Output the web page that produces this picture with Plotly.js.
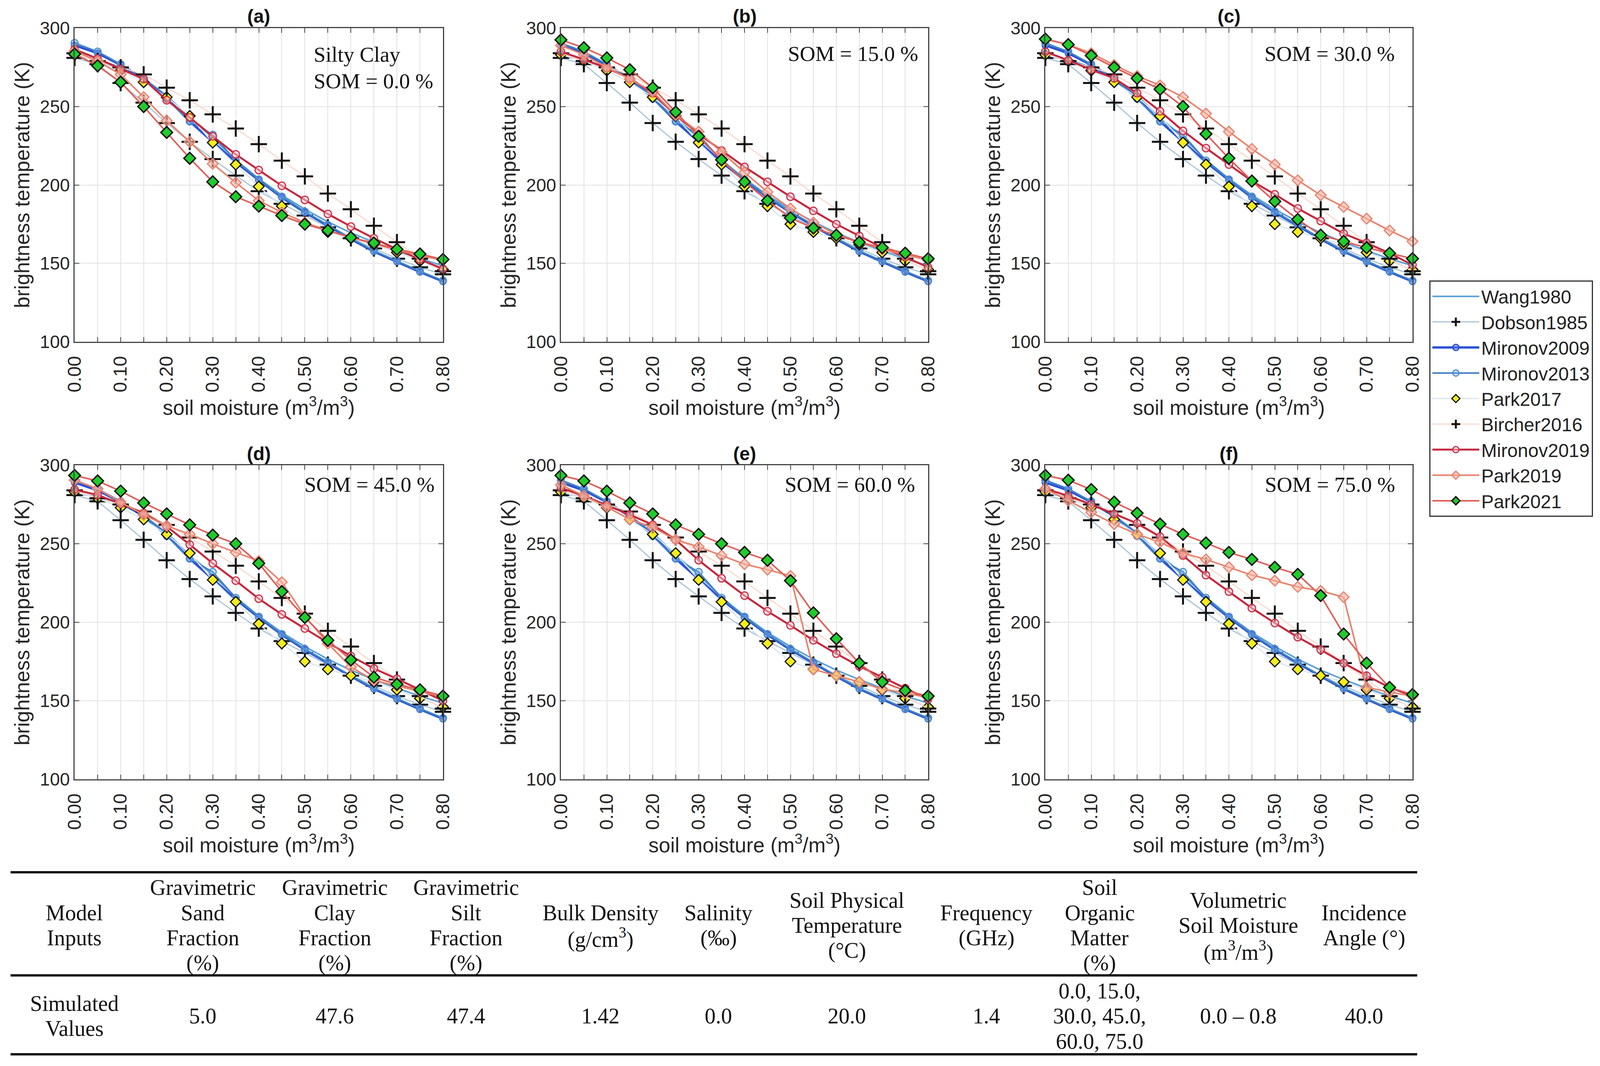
<!DOCTYPE html>
<html><head><meta charset="utf-8">
<script src="https://cdn.plot.ly/plotly-3.0.1.min.js"></script>
<style>html,body{margin:0;padding:0;background:#fff}#chart{width:4182px;height:2729px}</style>
</head><body><div id="chart"></div>
<script>
// ---------------- DATA ----------------
const moisture = [0.00,0.05,0.10,0.15,0.20,0.25,0.30,0.35,0.40,0.45,0.50,0.55,0.60,0.65,0.70,0.75,0.80];

// models that do not change with SOM (same in every panel)
const wang1980    = [282, 280, 275, 268, 257, 243, 230, 216, 204, 193.5, 184.5, 176.5, 169.5, 163.5, 158, 153, 148.5];
const dobson1985  = [281, 277, 265, 252.5, 239.5, 227.5, 216.5, 206, 196, 188, 180.5, 173, 166, 159.5, 153, 147.5, 143];
const mironov2009 = [289, 284, 276.5, 267.5, 255.5, 240.5, 227.5, 214.5, 203, 192, 182.5, 174, 165.5, 157.5, 151, 144.5, 138.5];
const mironov2013 = [290.5, 285, 277, 268, 255, 240.5, 232, 215.5, 203.5, 192.5, 183, 174.5, 166, 158, 151.5, 145, 139];
const park2017    = [283, 279, 273, 265.5, 256, 244, 227, 213, 199, 186.5, 175, 170, 166, 162, 157, 151.5, 146];
const bircher2016 = [284, 279, 275, 270.5, 262, 254, 245, 236, 226, 215.5, 205.5, 194.5, 184.5, 174, 163.5, 153, 145];

// SOM-dependent models, one array per panel
const mironov2019A = [286.5, 280.5, 274, 267.5, 254, 243, 231, 219.5, 209.5, 199.5, 190.5, 181.5, 173.5, 166, 159, 152.5, 146.5];
const park2019A    = [285.5, 279, 270.5, 256, 241, 227.5, 213.5, 201.5, 190, 182.5, 176, 171, 166.5, 162.5, 158.5, 155, 152];
const park2021A    = [283.5, 276, 265.5, 250, 233.5, 217, 202, 192.5, 186.5, 180.5, 175, 171, 166.5, 163, 159, 156, 152.5];

const mironov2019B = [285, 280, 274.5, 268, 258.5, 244.5, 232.5, 222, 211.5, 202, 192.5, 183.5, 175, 167.5, 160, 154, 147.5];
const park2019B    = [289, 283, 275, 267.5, 259.5, 244.5, 234, 221, 208, 195.5, 185, 176, 168.5, 163.5, 159, 155.5, 152];
const park2021B    = [292.5, 287.5, 281, 273.5, 262, 246.5, 231, 216, 202, 190, 179, 172.5, 168, 163.5, 160, 156.5, 153];

const mironov2019C = [285, 279.5, 273.5, 268, 258.5, 247, 234.5, 223.5, 213, 202.5, 194, 185, 177, 169, 163, 156.5, 149];
const park2019C    = [293, 289.5, 284, 276.5, 269.5, 263.5, 256, 245.5, 234, 223, 213, 203, 193.5, 186, 178.5, 171, 164];
const park2021C    = [293, 289.5, 282.5, 275, 268, 261, 250, 232.5, 217, 202.5, 189.5, 178, 168, 164, 160, 156.5, 153];

const mironov2019D = [284.5, 281, 275.5, 269.5, 261, 249.5, 237.5, 226.5, 215, 205, 196, 187, 178.5, 170.5, 164, 157, 150];
const park2019D    = [290.5, 285, 276.5, 268.5, 261.5, 256, 250, 244.5, 239, 225.5, 204, 186.5, 171.5, 163, 159.5, 156, 152.5];
const park2021D    = [293.5, 290, 283.5, 276, 269, 262, 255.5, 250, 237.5, 219.5, 203, 188.5, 176, 165, 160.5, 157, 153];

const mironov2019E = [285.5, 280.5, 274.5, 268.5, 262, 252.5, 239.5, 228, 217, 207, 198, 188.5, 180, 172, 165, 158, 151];
const park2019E    = [287.5, 280.5, 273.5, 265.5, 260.5, 252.5, 248, 242.5, 237, 233.5, 229.5, 170, 166, 162, 157.5, 155, 152];
const park2021E    = [293.5, 290, 283.5, 276, 269, 262, 256, 250, 244.5, 239.5, 226.5, 206, 189.5, 174, 162, 156.5, 153];

const mironov2019F = [285, 280.5, 275, 269, 263, 254.5, 242.5, 230, 219.5, 209, 199.5, 190.5, 182.5, 174, 166, 158.5, 153];
const park2019F    = [285, 277.5, 270, 262.5, 256, 251, 244, 240, 235, 230, 226.5, 222.5, 220, 216, 158.5, 155.5, 153];
const park2021F    = [293.5, 290.5, 284.5, 276.5, 269.5, 262.5, 256, 250.5, 244.5, 240, 235, 230.5, 217, 192.5, 174, 158.5, 154];

const panelTitles = ["(a)", "(b)", "(c)", "(d)", "(e)", "(f)"];
const somLabels = [["Silty Clay", "SOM = 0.0 %"], ["SOM = 15.0 %"], ["SOM = 30.0 %"], ["SOM = 45.0 %"], ["SOM = 60.0 %"], ["SOM = 75.0 %"]];
const modelNames = ["Wang1980", "Dobson1985", "Mironov2009", "Mironov2013", "Park2017", "Bircher2016", "Mironov2019", "Park2019", "Park2021"];

const xTickVals = [0.00, 0.10, 0.20, 0.30, 0.40, 0.50, 0.60, 0.70, 0.80];
const xTickText = ["0.00", "0.10", "0.20", "0.30", "0.40", "0.50", "0.60", "0.70", "0.80"];
const yTickVals = [100, 150, 200, 250, 300];

const tableHeader = [
  ["Model","Inputs"],
  ["Gravimetric","Sand","Fraction","(%)"],
  ["Gravimetric","Clay","Fraction","(%)"],
  ["Gravimetric","Silt","Fraction","(%)"],
  ["Bulk Density","(g/cm<sup>3</sup>)"],
  ["Salinity","(‰)"],
  ["Soil Physical","Temperature","(°C)"],
  ["Frequency","(GHz)"],
  ["Soil","Organic","Matter","(%)"],
  ["Volumetric","Soil Moisture","(m<sup>3</sup>/m<sup>3</sup>)"],
  ["Incidence","Angle (°)"]
];
const tableValues = [
  ["Simulated","Values"],["5.0"],["47.6"],["47.4"],["1.42"],["0.0"],["20.0"],["1.4"],
  ["0.0, 15.0,","30.0, 45.0,","60.0, 75.0"],["0.0 – 0.8"],["40.0"]
];

// ---------------- LAYOUT / STYLE ----------------
const W = 4182, H = 2729;
const px = v => v / W;
const py = v => 1 - v / H;
const SANS = "Liberation Sans, Arial, Helvetica, sans-serif";
const SERIF = "Liberation Serif, Times New Roman, serif";

const panelBoxes = [
  {l:191,  r:1134, t:72,   b:875,  txtX:801,  txtY:140},
  {l:1436, r:2376, t:72,   b:875,  txtX:2015, txtY:137},
  {l:2676, r:3616, t:72,   b:875,  txtX:3235, txtY:137},
  {l:191,  r:1134, t:1191, b:1995, txtX:777,  txtY:1240},
  {l:1436, r:2376, t:1191, b:1995, txtX:2007, txtY:1240},
  {l:2676, r:3616, t:1191, b:1995, txtX:3236, txtY:1240}
];
const somSeries = [
  [mironov2019A, park2019A, park2021A],
  [mironov2019B, park2019B, park2021B],
  [mironov2019C, park2019C, park2021C],
  [mironov2019D, park2019D, park2021D],
  [mironov2019E, park2019E, park2021E],
  [mironov2019F, park2019F, park2021F]
];

const styles = [
  {mode:'lines', line:{color:'#5aa0d6', width:4}},
  {mode:'lines+markers', line:{color:'#a9c4d6', width:3}, marker:{symbol:'cross-thin', size:30, line:{color:'#111', width:5}}},
  {mode:'lines+markers', line:{color:'#2a52d8', width:6}, marker:{symbol:'circle', size:16, color:'rgba(90,130,230,0.5)', line:{color:'#2448d6', width:3}}},
  {mode:'lines+markers', line:{color:'#3f82c4', width:4}, marker:{symbol:'circle', size:18, color:'rgba(120,170,225,0.35)', line:{color:'#4a8fd0', width:3}}},
  {mode:'lines+markers', line:{color:'#d8e4ef', width:3}, marker:{symbol:'diamond', size:21, color:'#f2ee1c', line:{color:'#111', width:3}}},
  {mode:'lines+markers', line:{color:'#f8d9cc', width:3}, marker:{symbol:'cross-thin', size:30, line:{color:'#111', width:5}}},
  {mode:'lines+markers', line:{color:'#c5283d', width:5}, marker:{symbol:'circle', size:19, color:'rgba(255,210,215,0.5)', line:{color:'#cc3048', width:3}}},
  {mode:'lines+markers', line:{color:'#e8826c', width:4}, marker:{symbol:'diamond', size:21, color:'rgba(245,180,165,0.6)', line:{color:'#e8826c', width:3}}},
  {mode:'lines+markers', line:{color:'#df5f58', width:4}, marker:{symbol:'diamond', size:23, color:'#1fcc2a', line:{color:'#111', width:3.5}}}
];

const traces = [];
const layout = {
  width: W, height: H,
  margin: {l:0, r:0, t:0, b:0},
  paper_bgcolor: '#ffffff', plot_bgcolor: '#ffffff',
  showlegend: true,
  legend: {
    x: px(3659), y: py(718), xanchor: 'left', yanchor: 'top',
    bgcolor: '#ffffff', bordercolor: '#333333', borderwidth: 3,
    font: {family: SANS, size: 48, color: '#222222'},
    itemwidth: 120, tracegroupgap: 0
  },
  annotations: [], shapes: []
};

panelBoxes.forEach((p, i) => {
  const sfx = i === 0 ? '' : String(i + 1);
  const seriesData = [wang1980, dobson1985, mironov2009, mironov2013, park2017, bircher2016,
                      somSeries[i][0], somSeries[i][1], somSeries[i][2]];
  seriesData.forEach((yv, k) => {
    const st = styles[k];
    traces.push(Object.assign({
      type: 'scatter', x: moisture, y: yv, name: modelNames[k],
      xaxis: 'x' + sfx, yaxis: 'y' + sfx, showlegend: i === 0, cliponaxis: false
    }, JSON.parse(JSON.stringify(st))));
  });
  layout['xaxis' + sfx] = {
    domain: [px(p.l), px(p.r)], anchor: 'y' + sfx, range: [0, 0.8],
    tickmode: 'array', tickvals: xTickVals, ticktext: xTickText, tickangle: -90,
    ticks: 'inside', ticklen: 12, tickwidth: 2, tickcolor: '#444', ticklabelstandoff: 14,
    minor: {tick0: 0, dtick: 0.05, ticks: 'inside', ticklen: 12, tickwidth: 2, tickcolor: '#444',
            showgrid: true, gridcolor: '#e2e2e2', gridwidth: 2},
    showline: true, mirror: 'ticks', linecolor: '#444', linewidth: 3,
    showgrid: true, gridcolor: '#e2e2e2', gridwidth: 2, zeroline: false,
    tickfont: {family: SANS, size: 48, color: '#262626'},
    title: {text: 'soil moisture (m<sup>3</sup>/m<sup>3</sup>)', font: {family: SANS, size: 53, color: '#262626'}, standoff: 22}
  };
  layout['yaxis' + sfx] = {
    domain: [py(p.b), py(p.t)], anchor: 'x' + sfx, range: [100, 300],
    tickmode: 'array', tickvals: yTickVals,
    ticks: 'inside', ticklen: 12, tickwidth: 2, tickcolor: '#444',
    showline: true, mirror: 'ticks', linecolor: '#444', linewidth: 3,
    showgrid: true, gridcolor: '#e2e2e2', gridwidth: 2, zeroline: false,
    tickfont: {family: SANS, size: 46, color: '#262626'},
    title: {text: 'brightness temperature (K)', font: {family: SANS, size: 53, color: '#262626'}, standoff: 10}
  };
  layout.annotations.push({
    xref: 'paper', yref: 'paper', x: px((p.l + p.r) / 2), y: py(p.t - 30),
    xanchor: 'center', yanchor: 'middle', showarrow: false,
    text: '<b>' + panelTitles[i] + '</b>', font: {family: SANS, size: 48, color: '#111'}
  });
  somLabels[i].forEach((t, j) => layout.annotations.push({
    xref: 'paper', yref: 'paper', x: px(p.txtX), y: py(p.txtY + j * 67),
    xanchor: 'left', yanchor: 'middle', align: 'left', showarrow: false,
    text: t, font: {family: SERIF, size: 55, color: '#111'}
  }));
});

// ---------------- TABLE ----------------
const colCenters = [190, 519, 857, 1193, 1537, 1839, 2168, 2525, 2815, 3170, 3492];
const ruleY = [2233, 2497, 2699];
ruleY.forEach(y => layout.shapes.push({
  type: 'line', xref: 'paper', yref: 'paper', x0: px(27), x1: px(3628), y0: py(y), y1: py(y),
  line: {color: '#111111', width: 6}
}));
const LINE = 64.5;
function addCell(lines, cx, cy) {
  const n = lines.length;
  lines.forEach((t, j) => {
    const y = cy + (j - (n - 1) / 2) * LINE;
    layout.annotations.push({
      xref: 'paper', yref: 'paper', x: px(cx), y: py(y), xanchor: 'center', yanchor: 'middle',
      showarrow: false, text: t, font: {family: SERIF, size: 56, color: '#111'}
    });
  });
}
tableHeader.forEach((c, i) => addCell(c, colCenters[i], 2369));
tableValues.forEach((c, i) => addCell(c, colCenters[i], 2601));

Plotly.newPlot('chart', traces, layout, {staticPlot: true, displayModeBar: false});
</script>
</body></html>
